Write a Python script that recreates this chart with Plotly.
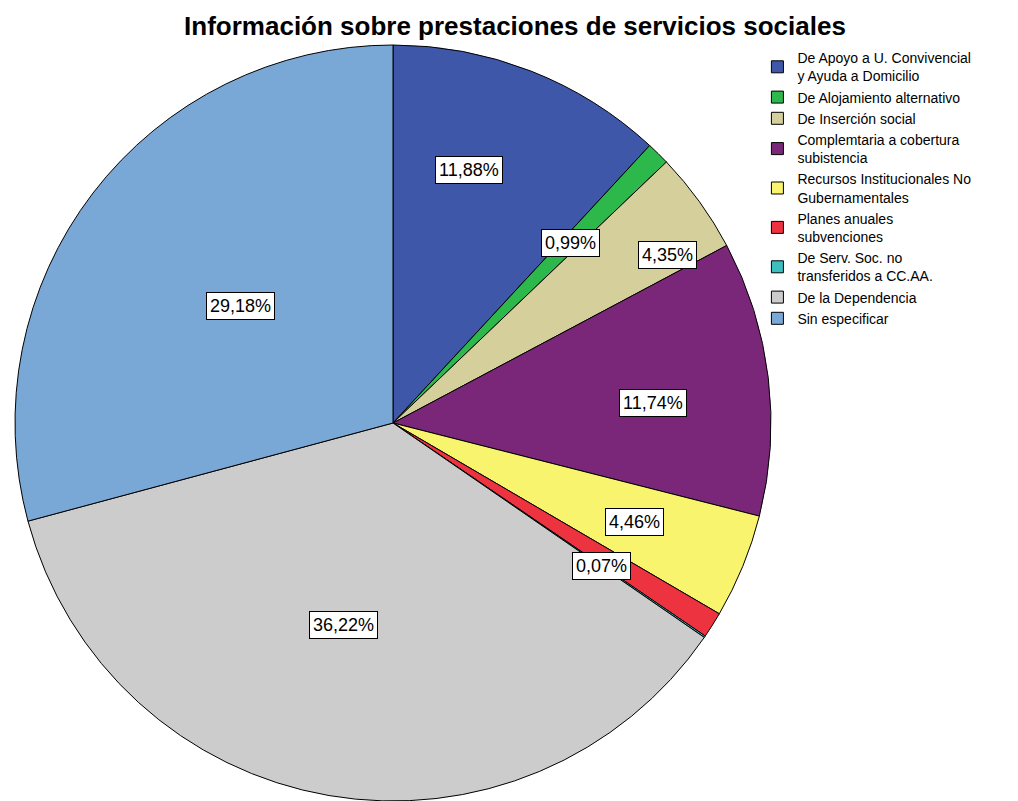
import math
import plotly.graph_objects as go

# data
labels = [
    "De Apoyo a U. Convivencial<br>y Ayuda a Domicilio",
    "De Alojamiento alternativo",
    "De Inserción social",
    "Complemtaria a cobertura<br>subistencia",
    "Recursos Institucionales No<br>Gubernamentales",
    "Planes anuales<br>subvenciones",
    "De Serv. Soc. no<br>transferidos a CC.AA.",
    "De la Dependencia",
    "Sin especificar",
]
percents = [11.88, 0.99, 4.35, 11.74, 4.46, 1.11, 0.07, 36.22, 29.18]
shown = [True, True, True, True, True, False, True, True, True]

colors = ["#3F57A8", "#2DB84B", "#D5CF9C", "#7B2779", "#F8F46E",
          "#EE3340", "#3DBFC0", "#CCCCCC", "#7AA8D6"]
# where the boxed labels sit: fraction of radius, fraction along the slice angle
label_r = [0.70, 0.67, 0.85, 0.69, 0.69, 0.67, 0.67, 0.55, 0.51]
label_a = [0.39, 0.5, 0.78, 0.56, 0.5, 0.5, 0.5, 0.53, 0.5]

# page body has an 8px margin, so the figure is a bit smaller than the window
W, H = 1010, 793
dom_x = [6 / W, 764 / W]
dom_y = [0.0, (H - 37) / H]

fig = go.Figure(go.Pie(
    labels=labels,
    values=percents,
    sort=False,
    direction="clockwise",
    rotation=0,
    marker=dict(colors=colors, line=dict(color="black", width=1)),
    textinfo="none",
    hoverinfo="label+percent",
    domain=dict(x=dom_x, y=dom_y),
))

cx = (dom_x[0] + dom_x[1]) / 2 * W
cy = (1 - (dom_y[0] + dom_y[1]) / 2) * H
rad = min((dom_x[1] - dom_x[0]) * W, (dom_y[1] - dom_y[0]) * H) / 2
total = sum(percents)
cum = 0
for p, show, rf, af in zip(percents, shown, label_r, label_a):
    ang = (cum + af * p) / total * 2 * math.pi
    cum += p
    if not show:
        continue
    px = cx + rf * rad * math.sin(ang)
    py = cy - rf * rad * math.cos(ang)
    fig.add_annotation(
        x=px / W, y=1 - py / H, xref="paper", yref="paper",
        xanchor="center", yanchor="middle",
        text=f"{p:.2f}%".replace(".", ","), showarrow=False,
        font=dict(family="Liberation Sans", size=18, color="black"),
        bgcolor="white", bordercolor="black", borderwidth=1, borderpad=3,
    )

fig.update_layout(
    width=W, height=H,
    title=dict(text="<b>Información sobre prestaciones de servicios sociales</b>",
               x=507 / W, xanchor="center", y=1 - 18 / H, yanchor="middle",
               font=dict(family="Liberation Sans", size=26, color="black")),
    legend=dict(x=0.742, y=0.957, xanchor="left", yanchor="top",
                bgcolor="rgba(0,0,0,0)",
                font=dict(family="Liberation Sans", size=14, color="black"),
                itemwidth=30, tracegroupgap=0),
    margin=dict(l=0, r=0, t=0, b=0),
    paper_bgcolor="white",
    showlegend=True,
)

fig.write_html("out.html")
